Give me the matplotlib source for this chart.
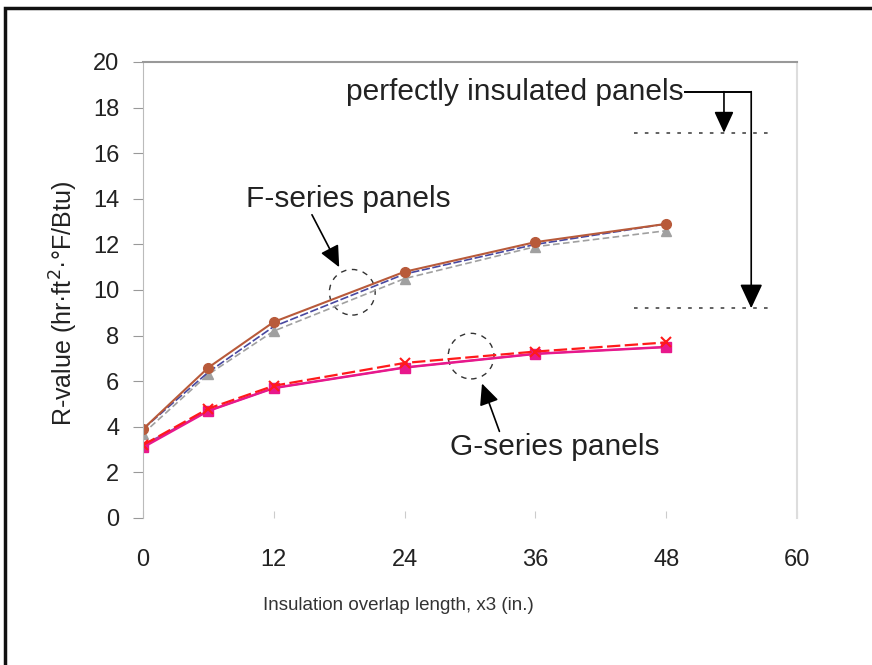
import matplotlib
matplotlib.use("Agg")
import matplotlib.pyplot as plt
from matplotlib.patches import Ellipse, Rectangle

plt.rcParams["font.family"] = ["Liberation Sans", "DejaVu Sans"]

# overlap length, x3 (in.)
overlap = [0, 6, 12, 24, 36, 48]
# F-series panels
f_brown = [3.9, 6.6, 8.6, 10.8, 12.1, 12.9]
f_blue = [3.9, 6.4, 8.4, 10.7, 12.0, 12.9]
f_gray = [3.7, 6.3, 8.2, 10.5, 11.9, 12.6]
# G-series panels
g_pink = [3.1, 4.7, 5.7, 6.6, 7.2, 7.5]
g_red = [3.2, 4.8, 5.8, 6.8, 7.3, 7.7]
g_purple = [3.2, 4.7, 5.7, 6.6, 7.2, 7.5]
# perfectly insulated levels
perfect_levels = [16.9, 9.2]

fig = plt.figure(figsize=(8.72, 6.65), dpi=100)
fig.patches.append(Rectangle((5/872, -0.1), 1.2, 1 - 8/665 + 0.1, transform=fig.transFigure,
                             fill=False, ec="#111111", lw=2.5))
ax = fig.add_axes([143/872, 1 - 518/665, 654/872, 456/665])

ax.plot(overlap, f_gray, color="#a0a0a0", lw=1.2, ls=(0, (4, 2)), marker="^", ms=7,
        mfc="#a0a0a0", mec="#a0a0a0")
ax.plot(overlap, f_blue, color="#4848a0", lw=1.2, ls=(0, (5, 1.5)))
ax.plot(overlap, f_brown, color="#b85a3a", lw=1.5, marker="o", ms=7,
        mfc="#b85a3a", mec="#b85a3a")

ax.plot(overlap, g_purple, color="#a040a0", lw=1.2)
ax.plot(overlap, g_pink, color="#e8188c", lw=1.8, marker="s", ms=7,
        mfc="#e8188c", mec="#e8188c")
ax.plot(overlap, g_red, color="#ff1a1a", lw=1.6, ls=(0, (6, 2)), marker="x", ms=7, mew=1.5)

for lv in perfect_levels:
    ax.plot([45, 57.6], [lv, lv], color="#555555", lw=1.3, ls=(0, (2, 4)))

head = dict(arrowstyle="-|>,head_length=1.3,head_width=0.6", color="black", lw=1.2,
            shrinkA=0, shrinkB=0)

# annotations
ax.text(18.8, 14.0, "F-series panels", ha="center", va="center", fontsize=21.5, color="#222222")
ax.annotate("", xy=(18.0, 11.0), xytext=(15.5, 13.3), arrowprops=head)
ax.add_patch(Ellipse((19.2, 9.9), 4.2, 2.0, fill=False, ls=(0, (4, 4)), ec="#333333", lw=1))

ax.text(37.8, 3.1, "G-series panels", ha="center", va="center", fontsize=21.5, color="#222222")
ax.annotate("", xy=(31.1, 5.9), xytext=(32.7, 3.8), arrowprops=head)
ax.add_patch(Ellipse((30.1, 7.1), 4.2, 2.0, fill=False, ls=(0, (4, 4)), ec="#333333", lw=1))

ax.text(49.6, 18.7, "perfectly insulated panels", ha="right", va="center", fontsize=21.5,
        color="#222222")
ax.plot([49.7, 55.8], [18.7, 18.7], color="black", lw=1.4)
ax.annotate("", xy=(53.3, 16.9), xytext=(53.3, 18.7), arrowprops=head)
ax.annotate("", xy=(55.8, 9.2), xytext=(55.8, 18.7),
            arrowprops=dict(head, arrowstyle="-|>,head_length=1.5,head_width=0.7"))

ax.set_xlim(0, 60)
ax.set_ylim(0, 20)
ax.set_xticks(range(0, 61, 12))
ax.set_yticks(range(0, 21, 2))
ax.tick_params(axis="y", direction="out", length=7, color="#999999", labelsize=17,
               labelcolor="#222222", pad=10)
ax.tick_params(axis="x", direction="in", length=5, color="#cccccc", labelsize=17,
               labelcolor="#222222", pad=22)
ax.spines["bottom"].set_visible(False)
ax.spines["top"].set_color("#999999")
ax.spines["top"].set_linewidth(1.5)
ax.spines["left"].set_color("#bbbbbb")
ax.spines["right"].set_color("#dddddd")
ax.spines["right"].set_linewidth(1.5)

ax.set_xlabel("Insulation overlap length, x3 (in.)", fontsize=13.5, color="#333333")
ax.xaxis.set_label_coords((398 - 143) / 654, -(605 - 518) / 456)
ax.xaxis.label.set_va("center")
ax.set_ylabel("R-value (hr·ft$^2$·°F/Btu)", fontsize=18, color="#222222")
ax.yaxis.set_label_coords(-(143 - 64) / 654, (518 - 304) / 456)
ax.yaxis.label.set_va("center")

fig.savefig("out.png", dpi=100)
